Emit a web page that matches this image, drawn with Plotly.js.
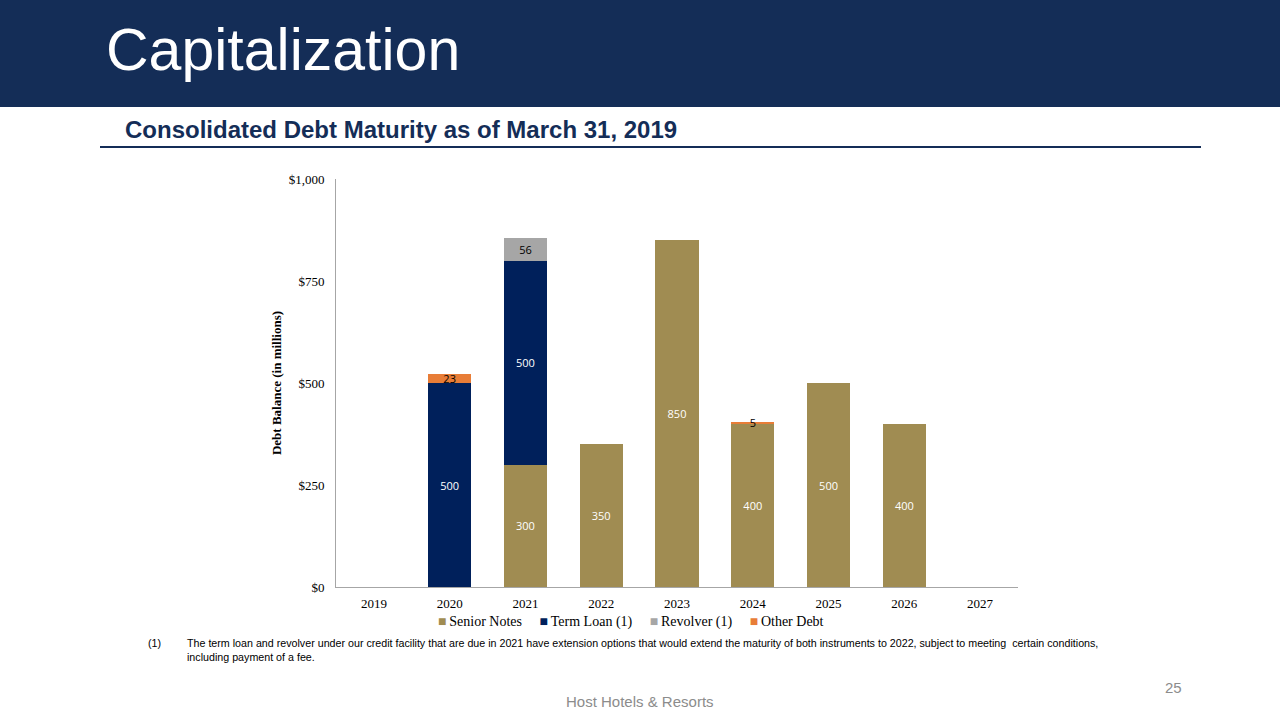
<!DOCTYPE html>
<html>
<head>
<meta charset="utf-8">
<script src="https://cdn.plot.ly/plotly-3.0.1.min.js"></script>
<style>
html,body{margin:0;padding:0;background:#fff;}
#chart{width:1280px;height:720px;}
</style>
</head>
<body>
<div id="chart"></div>
<script>
const years = ['2019','2020','2021','2022','2023','2024','2025','2026','2027'];
const seriesNames = ['Senior Notes', 'Term Loan (1)', 'Revolver (1)', 'Other Debt'];
const seniorNotes = [null, null, 300, 350, 850, 400, 500, 400, null];
const termLoan    = [null, 500, 500, null, null, null, null, null, null];
const revolver    = [null, null, 56, null, null, null, null, null, null];
const otherDebt   = [null, 23, null, null, null, 5, null, null, null];
const yTickVals = [0, 250, 500, 750, 1000];
const yTickText = ['$0', '$250', '$500', '$750', '$1,000'];

const seriesColors = ['#A08C52', '#00205B', '#A6A6A6', '#E87D37'];
const labelColors = ['#FFFFFF', '#FFFFFF', '#000000', '#000000'];
const seriesValues = [seniorNotes, termLoan, revolver, otherDebt];

const labelFont = {family: 'Open Sans, Noto Sans, sans-serif', size: 11};

const data = seriesValues.map((vals, i) => ({
  type: 'bar', name: seriesNames[i], x: years, y: vals,
  marker: {color: seriesColors[i]},
  text: vals.map(v => v == null ? '' : String(v)),
  textposition: 'inside', insidetextanchor: 'middle', textangle: 0,
  textfont: Object.assign({color: labelColors[i]}, labelFont),
  cliponaxis: false
}));

const serif = 'Liberation Serif, Times New Roman, serif';
const sans = 'Liberation Sans, Arial, sans-serif';

// paper coordinate helpers (plot area 336..1018 x 179..587)
const L = 336, W = 682, T = 179, H = 408;
const px = x => (x - L) / W;
const py = y => 1 - (y - T) / H;

const NB = '\u00a0';
const legendText = seriesNames.map((n, i) =>
  '<span style="color:' + seriesColors[i] + '">■</span>' + '\u2009' + n).join(NB.repeat(5));

const layout = {
  width: 1280, height: 720,
  margin: {l: L, r: 1280 - L - W, t: T, b: 720 - T - H},
  paper_bgcolor: '#FFFFFF', plot_bgcolor: '#FFFFFF',
  barmode: 'stack', bargap: 0.43,
  showlegend: false,
  uniformtext: {mode: 'show', minsize: 11},
  xaxis: {type: 'category', showgrid: false, zeroline: false, showline: true,
          linecolor: '#A6A6A6', linewidth: 1, ticks: '', ticklabelstandoff: 4,
          tickfont: {family: serif, size: 13, color: '#000'}, fixedrange: true},
  yaxis: {range: [0, 1000], tickvals: yTickVals, ticktext: yTickText,
          showgrid: false, zeroline: false, showline: true, linecolor: '#A6A6A6', linewidth: 1,
          ticks: '', ticklabelstandoff: 8, tickfont: {family: serif, size: 13, color: '#000'},
          title: {text: '<b>Debt Balance (in millions)</b>', font: {family: serif, size: 13, color: '#000'}, standoff: 4},
          fixedrange: true},
  shapes: [
    {type: 'rect', xref: 'paper', yref: 'paper', x0: px(0), x1: px(1280), y0: py(107), y1: py(0),
     fillcolor: '#142D57', line: {width: 0}, layer: 'below'},
    {type: 'line', xref: 'paper', yref: 'paper', x0: px(100), x1: px(1201),
     y0: py(147), y1: py(147), line: {color: '#142D57', width: 2}}
  ],
  annotations: [
    {xref: 'paper', yref: 'paper', x: px(104), y: py(50), xanchor: 'left', yanchor: 'middle',
     text: 'Capitalization', showarrow: false, font: {family: sans, size: 59, color: '#FFFFFF'}},
    {xref: 'paper', yref: 'paper', x: px(123), y: py(129), xanchor: 'left', yanchor: 'middle',
     text: '<b>Consolidated Debt Maturity as of March 31, 2019</b>', showarrow: false,
     font: {family: sans, size: 24, color: '#142D57'}},
    {xref: 'paper', yref: 'paper', x: px(631), y: py(622), xanchor: 'center', yanchor: 'middle',
     text: legendText, showarrow: false, font: {family: serif, size: 14, color: '#000'}},
    {xref: 'paper', yref: 'paper', x: px(146), y: py(643), xanchor: 'left', yanchor: 'middle',
     text: '(1)', showarrow: false, font: {family: sans, size: 10.7, color: '#000'}},
    {xref: 'paper', yref: 'paper', x: px(185), y: py(650), xanchor: 'left', yanchor: 'middle', align: 'left',
     text: 'The term loan and revolver under our credit facility that are due in 2021 have extension options that would extend the maturity of both instruments to 2022, subject to meeting  certain conditions,<br>including payment of a fee.',
     showarrow: false, font: {family: sans, size: 10.7, color: '#000'}},
    {xref: 'paper', yref: 'paper', x: px(1184), y: py(687), xanchor: 'right', yanchor: 'middle',
     text: '25', showarrow: false, font: {family: sans, size: 15, color: '#8C8C8C'}},
    {xref: 'paper', yref: 'paper', x: px(640), y: py(701), xanchor: 'center', yanchor: 'middle',
     text: 'Host Hotels &amp; Resorts', showarrow: false, font: {family: sans, size: 15, color: '#8C8C8C'}}
  ]
};

Plotly.newPlot('chart', data, layout, {displayModeBar: false, staticPlot: true});
</script>
</body>
</html>
